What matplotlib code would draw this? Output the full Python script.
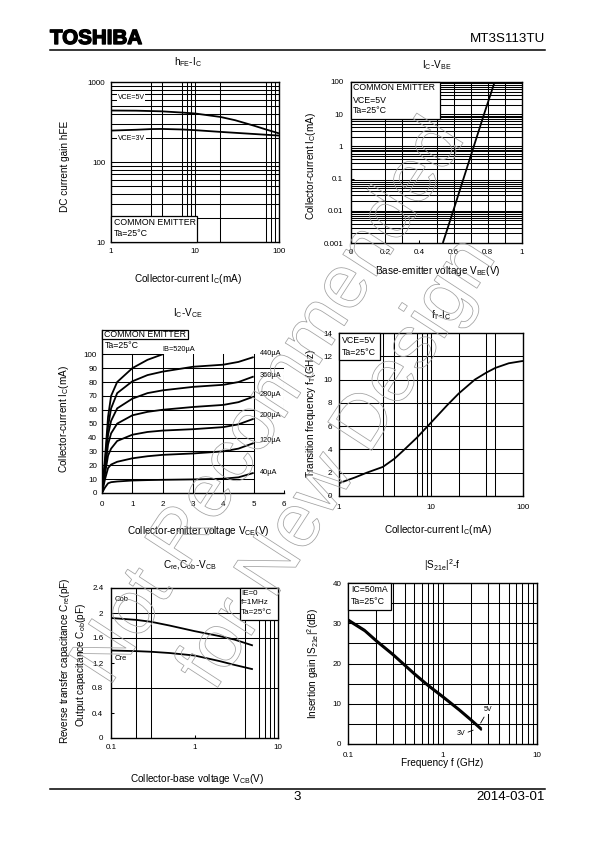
import matplotlib
matplotlib.use('Agg')
import matplotlib.pyplot as plt
from matplotlib.patches import Rectangle, PathPatch
from matplotlib.textpath import TextPath
from matplotlib.font_manager import FontProperties
from matplotlib.lines import Line2D
import matplotlib.transforms as mtransforms
import matplotlib.patheffects as pe
from matplotlib.ticker import NullLocator, FixedLocator, FixedFormatter

plt.rcParams['font.family'] = ['Liberation Sans', 'DejaVu Sans']
plt.rcParams['mathtext.fontset'] = 'custom'
plt.rcParams['mathtext.rm'] = 'Liberation Sans'
plt.rcParams['mathtext.it'] = 'Liberation Sans'
plt.rcParams['mathtext.bf'] = 'Liberation Sans:bold'
plt.rcParams['mathtext.default'] = 'regular'

# ---------------- data ----------------
# hFE - IC
hfe_ic_5v = [1, 2, 4, 7, 10, 20, 30, 50, 70, 100]
hfe_5v = [440, 438, 430, 415, 404, 366, 333, 285, 255, 228]
hfe_ic_3v = [1, 2, 3, 4, 7, 10, 20, 50, 100]
hfe_3v = [247, 253, 258, 259, 255, 250, 238, 224, 214]

# IC - VBE
vbe = [0.537, 0.598, 0.658, 0.718, 0.778, 0.84]
ic_vbe = [0.001, 0.01, 0.1, 1, 10, 100]

# IC - VCE
vce = [0, 0.1, 0.2, 0.3, 0.5, 1.0, 1.5, 2.0, 3.0, 4.0, 4.5, 5.0]
ic_40 = [0, 4, 7, 7.8, 8.3, 9.0, 9.3, 9.5, 9.8, 10.3, 11.3, 14.5]
ic_120 = [0, 10, 18, 20.5, 22.5, 25, 26.5, 27.5, 28.5, 30, 32, 36]
ic_200 = [0, 14, 27, 32, 37.5, 42, 44, 45, 46, 47.5, 49.5, 53.5]
ic_280 = [0, 17, 35, 43, 50, 56, 58.5, 60, 62, 63.5, 65.5, 69.5]
ic_360 = [0, 20, 42, 52, 61, 68, 72, 74, 76.5, 78, 80, 84]
ic_440 = [0, 22, 48, 61, 72, 80.5, 85, 87.5, 91, 92.5, 94.5, 98]
vce_520 = [0, 0.1, 0.2, 0.3, 0.5, 1.0, 1.5, 2.0]
ic_520 = [0, 25, 55, 70, 80, 90, 96, 100]
ib_labels = ['440µA', '360µA', '280µA', '200µA', '120µA', '40µA']
ib_label_y = [100.5, 85, 70.7, 55.6, 37.9, 14.9]

# fT - IC
ft_ic = [1, 1.5, 2, 3, 4, 5, 7, 10, 15, 20, 30, 40, 50, 70, 100]
ft = [1.1, 1.6, 2.0, 2.5, 3.2, 3.9, 5.0, 6.3, 7.8, 8.8, 10.0, 10.6, 11.0, 11.4, 11.6]

# Cre, Cob - VCB
vcb = [0.1, 0.2, 0.3, 0.5, 1, 2, 3, 5]
cob = [1.92, 1.89, 1.86, 1.80, 1.71, 1.63, 1.575, 1.48]
cre = [1.40, 1.39, 1.38, 1.36, 1.32, 1.23, 1.17, 1.10]

# |S21e|^2 - f
s_f = [0.1, 0.15, 0.2, 0.3, 0.5, 0.7, 1, 1.5, 2, 2.6]
s21_5v = [31.0, 28.4, 25.8, 22.4, 17.7, 14.8, 12.0, 8.7, 6.2, 3.8]
s21_3v = [30.6, 28.0, 25.4, 22.0, 17.3, 14.4, 11.6, 8.3, 5.8, 3.4]

# ---------------- figure ----------------
W, H = 595, 842
fig = plt.figure(figsize=(W / 100, H / 100), dpi=100)
fig.patch.set_facecolor('white')


def px_ax(l, t, r, b):
    return fig.add_axes([l / W, 1 - b / H, (r - l) / W, (b - t) / H])


def ftext(x, y, s, **kw):
    kw.setdefault('ha', 'center')
    kw.setdefault('va', 'center')
    return fig.text(x / W, 1 - y / H, s, **kw)


GL = dict(color='black', lw=0.75, zorder=1)
TICK = 5.8
LBL = 7.2
BOX = 6.3
CURVE = dict(color='black', lw=1.3, zorder=3, solid_capstyle='butt')


def vgrid(ax, xs, y0=0, y1=1):
    for x in xs:
        ax.axvline(x, y0, y1, **GL)


def hgrid(ax, ys, x0=0, x1=1):
    for y in ys:
        ax.axhline(y, x0, x1, **GL)


def style(ax, xt, xl, yt, yl, xpad, ypad):
    for s in ax.spines.values():
        s.set_linewidth(1.0)
        s.set_color('black')
        s.set_zorder(4)
    ax.xaxis.set_major_locator(FixedLocator(xt))
    ax.xaxis.set_major_formatter(FixedFormatter(xl))
    ax.yaxis.set_major_locator(FixedLocator(yt))
    ax.yaxis.set_major_formatter(FixedFormatter(yl))
    ax.xaxis.set_minor_locator(NullLocator())
    ax.yaxis.set_minor_locator(NullLocator())
    ax.tick_params(axis='x', which='major', direction='in', length=2.5, width=0.75,
                   labelsize=TICK, pad=xpad)
    ax.tick_params(axis='y', which='major', direction='in', length=2.5, width=0.75,
                   labelsize=TICK, pad=ypad)


def box(ax, x0, y0, x1, y1, lines, ys, tx, size=BOX):
    ax.add_patch(Rectangle((x0, y0), x1 - x0, y1 - y0, transform=ax.transAxes,
                           fc='white', ec='black', lw=0.9, zorder=5, clip_on=False))
    for s, y in zip(lines, ys):
        ax.text(tx, y, s, transform=ax.transAxes, fontsize=size, ha='left',
                va='center', zorder=6)


# ---- 1: hFE - IC ----
ax1 = px_ax(111, 82, 279, 242)
ax1.set_xscale('log')
ax1.set_yscale('log')
ax1.set_xlim(1, 100)
ax1.set_ylim(10, 1000)
vgrid(ax1, [3, 4, 7, 8, 9, 10, 20, 70, 80, 90])
hgrid(ax1, [20, 30, 40, 50, 60, 70, 80, 90, 100, 200, 300, 400, 500, 600, 700, 800, 900])
ax1.plot(hfe_ic_5v, hfe_5v, **CURVE)
ax1.plot(hfe_ic_3v, hfe_3v, **CURVE)
style(ax1, [1, 10, 100], ['1', '10', '100'], [10, 100, 1000], ['10', '100', '1000'], 4.2, 4.0)
ax1.text(1.2, 635, 'VCE=5V', fontsize=5.0, ha='left', va='center', zorder=5,
         bbox=dict(fc='white', ec='none', pad=0.6))
ax1.text(1.2, 198, 'VCE=3V', fontsize=5.0, ha='left', va='center', zorder=5,
         bbox=dict(fc='white', ec='none', pad=0.6))
box(ax1, 0, 0, 0.512, 0.163, ['COMMON EMITTER', 'Ta=25°C'], [0.12, 0.055], 0.015)
ftext(188, 62, 'h$_{FE}$-I$_C$', fontsize=LBL)
ftext(188, 279, 'Collector-current I$_C$(mA)', fontsize=LBL)
ftext(65, 166, 'DC current gain hFE', fontsize=LBL, rotation=90)

# ---- 2: IC - VBE ----
ax2 = px_ax(351, 82, 522, 243)
ax2.set_yscale('log')
ax2.set_xlim(0, 1)
ax2.set_ylim(0.001, 100)
vgrid(ax2, [0.2, 0.3, 0.5, 0.6, 0.7, 0.8, 0.9])
hgrid(ax2, [m * 10.0 ** e for e in range(-3, 2) for m in range(2, 10)] + [0.01, 1, 10])
ax2.plot(vbe, ic_vbe, **CURVE)
style(ax2, [0, 0.2, 0.4, 0.6, 0.8, 1], ['0', '0.2', '0.4', '0.6', '0.8', '1'],
      [0.001, 0.01, 0.1, 1, 10, 100], ['0.001', '0.01', '0.1', '1', '10', '100'], 4.0, 5.5)
box(ax2, 0, 0.769, 0.518, 1.0, ['COMMON EMITTER', 'VCE=5V', 'Ta=25°C'],
    [0.965, 0.888, 0.82], 0.012)
ftext(437, 65, 'I$_C$-V$_{BE}$', fontsize=LBL)
ftext(438, 271, 'Base-emitter voltage V$_{BE}$(V)', fontsize=LBL)
ftext(311, 166, 'Collector-current I$_C$(mA)', fontsize=LBL, rotation=90)

# ---- 3: IC - VCE ----
ax3 = px_ax(102, 330, 284, 493)
ax3.set_xlim(0, 6)
ax3.set_ylim(0, 117.5)
ax3.spines['top'].set_visible(False)
ax3.spines['right'].set_visible(False)
for y in [10, 20, 30, 40, 50, 60, 70, 80]:
    ax3.axhline(y, 0, 5 / 6, **GL)
ax3.axhline(90, 0, 1, **GL)
ax3.axhline(100, 0, 2 / 6, **GL)
for x in [1, 2, 3, 4, 5]:
    ax3.axvline(x, 0, 100 / 117.5, **GL)
ax3.axvline(6, 61 / 117.5, 89 / 117.5, color='black', lw=0.75, ls=(0, (4, 3)))
for ys in [ic_40, ic_120, ic_200, ic_280, ic_360, ic_440]:
    ax3.plot(vce, ys, **CURVE)
ax3.plot(vce_520, ic_520, **CURVE)
style(ax3, [0, 1, 2, 3, 4, 5, 6], ['0', '1', '2', '3', '4', '5', '6'],
      list(range(0, 101, 10)), [str(v) for v in range(0, 101, 10)], 5.5, 3.5)
for s, y in zip(ib_labels, ib_label_y):
    ax3.text(5.2, y, s, fontsize=5.3, ha='left', va='center', zorder=5,
             bbox=dict(fc='white', ec='none', pad=0.5))
ax3.text(1.98, 103.2, 'IB=520µA', fontsize=5.3, ha='left', va='center', zorder=5,
         bbox=dict(fc='white', ec='none', pad=0.5))
ax3.add_patch(Rectangle((0, 110.8), 2.83, 6.7, fc='white', ec='black', lw=0.9,
                        zorder=5, clip_on=False))
ax3.text(0.08, 114.2, 'COMMON EMITTER', fontsize=BOX, ha='left', va='center', zorder=6)
ax3.text(0.08, 106.3, 'Ta=25°C', fontsize=BOX, ha='left', va='center', zorder=6)
ftext(188, 313, 'I$_C$-V$_{CE}$', fontsize=LBL)
ftext(198, 531, 'Collector-emitter voltage V$_{CE}$(V)', fontsize=LBL)
ftext(64, 419, 'Collector-current I$_C$(mA)', fontsize=LBL, rotation=90)

# ---- 4: fT - IC ----
ax4 = px_ax(339, 333, 523, 496)
ax4.set_xscale('log')
ax4.set_xlim(1, 100)
ax4.set_ylim(0, 14)
vgrid(ax4, [3, 4, 7, 8, 9, 10, 20, 40, 50])
hgrid(ax4, [2, 4, 6, 8, 10, 12])
ax4.plot(ft_ic, ft, **CURVE)
style(ax4, [1, 10, 100], ['1', '10', '100'], list(range(0, 15, 2)),
      [str(v) for v in range(0, 15, 2)], 6.0, 5.0)
box(ax4, 0, 0.837, 0.222, 1.0, ['VCE=5V', 'Ta=25°C'], [0.955, 0.88], 0.015)
ftext(441, 315, 'f$_T$-I$_C$', fontsize=LBL)
ftext(438, 530, 'Collector-current I$_C$(mA)', fontsize=LBL)
ftext(311, 414, 'Transition frequency f$_T$(GHz)', fontsize=LBL, rotation=90)

# ---- 5: Cre, Cob - VCB ----
ax5 = px_ax(111, 588, 278, 738)
ax5.set_xscale('log')
ax5.set_xlim(0.1, 10)
ax5.set_ylim(0, 2.4)
vgrid(ax5, [0.2, 0.3, 4])
vgrid(ax5, [6, 7, 8, 9], 0, 0.788)
ax5.axhline(2.0, 0, 0.771, **GL)
hgrid(ax5, [1.6, 0.8])
ax5.plot(vcb, cob, **CURVE)
ax5.plot(vcb, cre, **CURVE)
style(ax5, [0.1, 1, 10], ['0.1', '1', '10'], [0, 0.4, 0.8, 1.2, 1.6, 2.0, 2.4],
      ['0', '0.4', '0.8', '1.2', '1.6', '2', '2.4'], 4.0, 5.5)
ax5.text(0.112, 2.21, 'Cob', fontsize=5.5, ha='left', va='center', zorder=5)
ax5.text(0.112, 1.27, 'Cre', fontsize=5.5, ha='left', va='center', zorder=5)
box(ax5, 0.771, 0.788, 1.0, 1.0, ['IE=0', 'f=1MHz', 'Ta=25°C'],
    [0.965, 0.9, 0.84], 0.78, size=5.8)
ftext(190, 565, 'C$_{re}$,C$_{ob}$-V$_{CB}$', fontsize=LBL)
ftext(197, 779, 'Collector-base voltage V$_{CB}$(V)', fontsize=LBL)
ftext(65, 661, 'Reverse transfer capacitance C$_{re}$(pF)', fontsize=LBL, rotation=90)
ftext(81, 665, 'Output capacitance C$_{ob}$(pF)', fontsize=LBL, rotation=90)

# ---- 6: |S21e|^2 - f ----
ax6 = px_ax(348, 583, 537, 744)
ax6.set_xscale('log')
ax6.set_xlim(0.1, 10)
ax6.set_ylim(0, 40)
vgrid(ax6, [m * 0.1 for m in range(2, 10)] + [1] + [m * 1.0 for m in range(2, 10)])
hgrid(ax6, [5, 10, 15, 20, 25, 30, 35])
ax6.plot(s_f, s21_5v, **CURVE)
ax6.plot(s_f, s21_3v, **CURVE)
style(ax6, [0.1, 1, 10], ['0.1', '1', '10'], [0, 10, 20, 30, 40],
      ['0', '10', '20', '30', '40'], 6.0, 4.7)
ax6.text(2.7, 8.6, '5V', fontsize=5.0, ha='left', va='center', zorder=5,
         bbox=dict(fc='white', ec='none', pad=0.5))
ax6.text(1.42, 2.6, '3V', fontsize=5.0, ha='left', va='center', zorder=5,
         bbox=dict(fc='white', ec='none', pad=0.5))
ax6.annotate('', xy=(2.45, 4.6), xytext=(2.85, 7.3),
             arrowprops=dict(arrowstyle='-', color='black', lw=0.6), zorder=5)
ax6.annotate('', xy=(2.25, 3.7), xytext=(1.75, 2.7),
             arrowprops=dict(arrowstyle='-', color='black', lw=0.6), zorder=5)
box(ax6, 0, 0.834, 0.229, 1.0, ['IC=50mA', 'Ta=25°C'], [0.958, 0.885], 0.015)
ftext(442, 565, '|S$_{21e}$|$^2$-f', fontsize=LBL)
ftext(442, 763, 'Frequency f (GHz)', fontsize=LBL)
ftext(313, 663, 'Insertion gain |S$_{21e}$|$^2$(dB)', fontsize=LBL, rotation=90)

# ---------------- header / footer ----------------
ftext(50, 38.5, 'TOSHIBA', ha='left', fontsize=14.8, fontweight='bold',
      path_effects=[pe.withStroke(linewidth=1.0, foreground='black')])
ftext(545, 39, 'MT3S113TU', ha='right', fontsize=9.6)
fig.add_artist(Line2D([50 / W, 545 / W], [1 - 49.5 / H] * 2, color='black', lw=1.1))
fig.add_artist(Line2D([50 / W, 545 / W], [1 - 789 / H] * 2, color='black', lw=1.1))
ftext(297, 797, '3', fontsize=9.6)
ftext(545, 797, '2014-03-01', ha='right', fontsize=9.6)

# ---------------- watermark ----------------
fp = FontProperties(family='Liberation Sans')


def outline(s, cx, cy, ang, size=76):
    tp = TextPath((0, 0), s, prop=fp, size=size)
    bb = tp.get_extents()
    tr = (mtransforms.Affine2D()
          .translate(-(bb.x0 + bb.x1) / 2, -(bb.y0 + bb.y1) / 2)
          .rotate_deg(ang)
          .translate(cx, H - cy))
    patch = PathPatch(tp, fc='none', ec='#a0a0a0', lw=0.55, transform=tr, zorder=10)
    fig.add_artist(patch)


outline('Not Recommended', 265, 398, 57)
outline('for New Design', 338, 466, 57)

fig.savefig('out.png', dpi=100)
